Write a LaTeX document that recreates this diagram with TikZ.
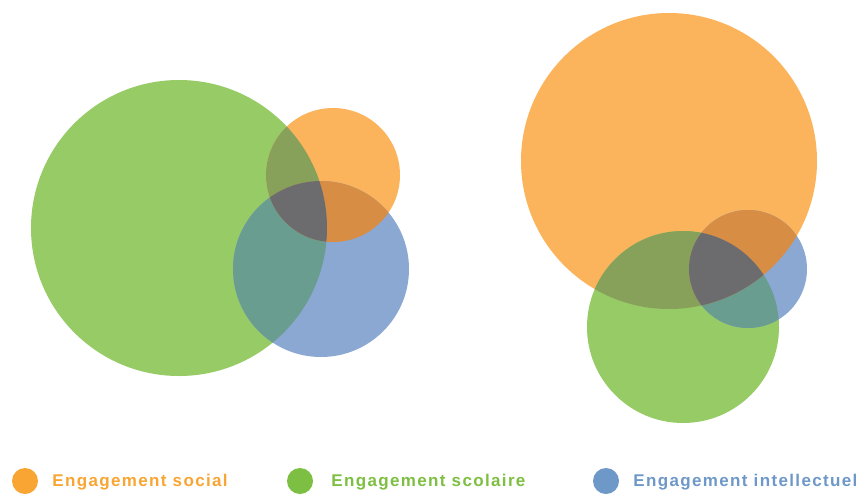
\documentclass[tikz,border=0pt]{standalone}
\usepackage{fontspec}
\setmainfont{Liberation Sans}
\newfontfamily\legfont[LetterSpace=8]{Liberation Sans}
\usetikzlibrary{positioning}
% full colours (legend)
\definecolor{orangeS}{HTML}{F9A533}
\definecolor{greenS}{HTML}{7DBF42}
\definecolor{blueS}{HTML}{6E98C8}
% light colours (circles)
\definecolor{orangeL}{HTML}{FBB45C}
\definecolor{greenL}{HTML}{97CB66}
\definecolor{blueL}{HTML}{8BA8D2}
% overlaps
\definecolor{og}{HTML}{87A05A}
\definecolor{ob}{HTML}{D78D44}
\definecolor{gb}{HTML}{699D8F}
\definecolor{ogb}{HTML}{6C6C6E}

\begin{document}
\begin{tikzpicture}[x=0.03cm,y=-0.03cm]

\tikzset{legdot/.style={shape=circle,inner sep=0pt,minimum size=0.78cm},
legtext/.style={font=\legfont\bfseries\fontsize{14.5}{16}\selectfont,anchor=west,inner sep=0pt,node distance=0.42cm,yshift=-0.04cm}}

\useasboundingbox (0,0) rectangle (862,493);

% Left diagram
\coordinate (gA) at (179,228); \def\rgA{148}
\coordinate (oA) at (333,175); \def\roA{67}
\coordinate (bA) at (321,269); \def\rbA{88}

\fill[greenL] (gA) circle[radius=\rgA];
\fill[orangeL] (oA) circle[radius=\roA];
\fill[blueL] (bA) circle[radius=\rbA];
\begin{scope} \clip (gA) circle[radius=\rgA]; \fill[og] (oA) circle[radius=\roA]; \fill[gb] (bA) circle[radius=\rbA]; \end{scope}
\begin{scope} \clip (oA) circle[radius=\roA]; \fill[ob] (bA) circle[radius=\rbA]; \end{scope}
\begin{scope} \clip (gA) circle[radius=\rgA]; \clip (oA) circle[radius=\roA]; \fill[ogb] (bA) circle[radius=\rbA]; \end{scope}

% Right diagram
\coordinate (oB) at (669,161); \def\roB{148}
\coordinate (gB) at (683,327); \def\rgB{96}
\coordinate (bB) at (748,269); \def\rbB{59}

\fill[orangeL] (oB) circle[radius=\roB];
\fill[greenL] (gB) circle[radius=\rgB];
\fill[blueL] (bB) circle[radius=\rbB];
\begin{scope} \clip (gB) circle[radius=\rgB]; \fill[og] (oB) circle[radius=\roB]; \fill[gb] (bB) circle[radius=\rbB]; \end{scope}
\begin{scope} \clip (oB) circle[radius=\roB]; \fill[ob] (bB) circle[radius=\rbB]; \end{scope}
\begin{scope} \clip (gB) circle[radius=\rgB]; \clip (oB) circle[radius=\roB]; \fill[ogb] (bB) circle[radius=\rbB]; \end{scope}

% Legend
\node (dotS) [legdot,fill=orangeS] at (25,481) {};
\node (txtS) [legtext,right=of dotS,text=orangeS] {Engagement social};
\node (dotC) [legdot,fill=greenS] at (300,481) {};
\node (txtC) [legtext,right=0.54cm of dotC,text=greenS] {Engagement scolaire};
\node (dotI) [legdot,fill=blueS] at (606,481) {};
\node (txtI) [legtext,right=of dotI,text=blueS] {Engagement intellectuel};

\end{tikzpicture}
\end{document}
